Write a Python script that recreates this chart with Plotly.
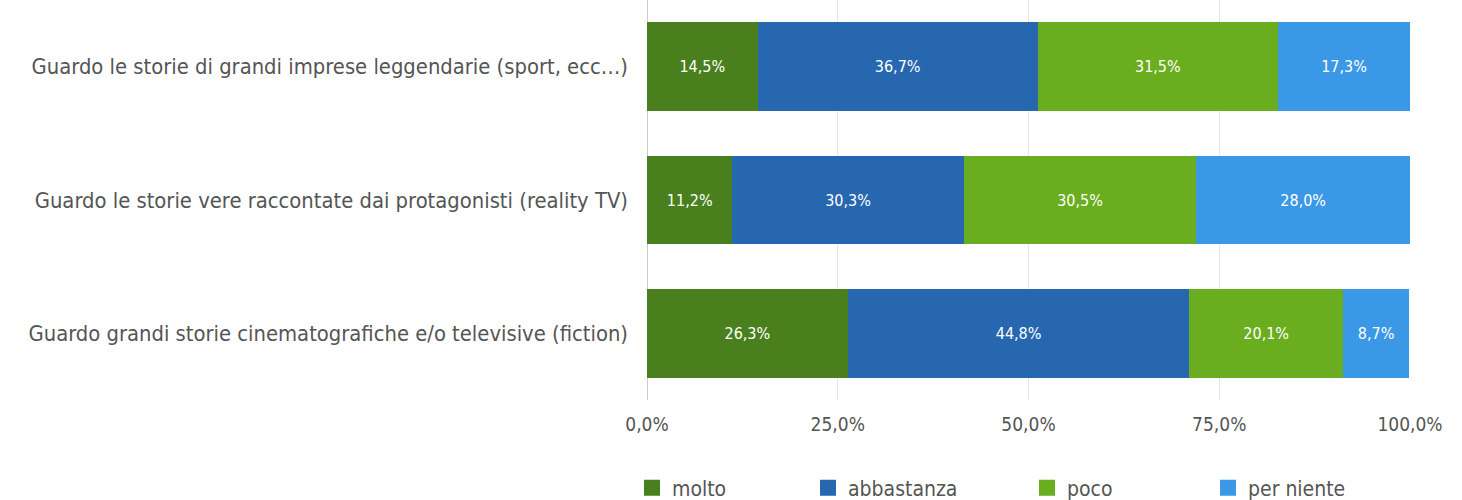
import plotly.graph_objects as go

categories = [
    "Guardo le storie di grandi imprese leggendarie (sport, ecc…)",
    "Guardo le storie vere raccontate dai protagonisti (reality TV)",
    "Guardo grandi storie cinematografiche e/o televisive (fiction)",
]
series_names = ["molto", "abbastanza", "poco", "per niente"]
molto = [14.5, 11.2, 26.3]
abbastanza = [36.7, 30.3, 44.8]
poco = [31.5, 30.5, 20.1]
per_niente = [17.3, 28.0, 8.7]
colors = ["#4a7f1e", "#2767b0", "#6aad1e", "#3a98e6"]
tick_vals = [0, 25, 50, 75, 100]
tick_text = ["0,0%", "25,0%", "50,0%", "75,0%", "100,0%"]

FONT = "DejaVu Sans Condensed, DejaVu Sans, sans-serif"
legend_px = [642, 818, 1037, 1218]  # left edge of legend squares in reference
legend_keys = ["legend", "legend2", "legend3", "legend4"]

fig = go.Figure()
for name, vals, col in zip(series_names, [molto, abbastanza, poco, per_niente], colors):
    fig.add_trace(go.Bar(
        name=name, y=categories, x=vals, orientation="h",
        marker=dict(color=col, line=dict(width=0)),
        texttemplate="%{x:.1f}%", textposition="inside", insidetextanchor="middle",
        textfont=dict(color="white", size=16, family=FONT),
        hoverinfo="skip", showlegend=False,
    ))
# legend entries (square markers)
for name, col, lk in zip(series_names, colors, legend_keys):
    fig.add_trace(go.Scatter(
        name=name, x=[None], y=[None], mode="markers",
        marker=dict(symbol="square", size=20, color=col),
        legend=lk, showlegend=True, hoverinfo="skip",
    ))

legend_common = dict(
    orientation="h", yanchor="middle", y=1 - 488 / 500, yref="container",
    xref="container", xanchor="left",
    font=dict(size=21, color="#555555", family=FONT),
    itemwidth=30, bgcolor="rgba(0,0,0,0)", borderwidth=0,
)

fig.update_layout(
    barmode="stack",
    bargap=0.335,
    separators=",.",
    width=1462, height=500,
    margin=dict(l=647, r=52, t=0, b=100),
    plot_bgcolor="white", paper_bgcolor="white",
    font=dict(family=FONT, size=18, color="#555555"),
    xaxis=dict(
        range=[0, 100], tickvals=tick_vals, ticktext=tick_text,
        showgrid=True, gridcolor="#e6e6e6", gridwidth=1,
        zeroline=True, zerolinecolor="#cccccc", zerolinewidth=1,
        showline=False, ticks="", ticklabelstandoff=11,
        tickfont=dict(size=19, color="#555555"),
    ),
    yaxis=dict(
        categoryorder="array", categoryarray=categories, autorange="reversed",
        showgrid=False, zeroline=False, showline=False, ticks="",
        ticklabelstandoff=18, tickfont=dict(size=21.8, color="#555555"),
    ),
)
for lk, px in zip(legend_keys, legend_px):
    fig.update_layout({lk: dict(legend_common, x=(px - 10) / 1462)})

fig.write_html("out.html")
